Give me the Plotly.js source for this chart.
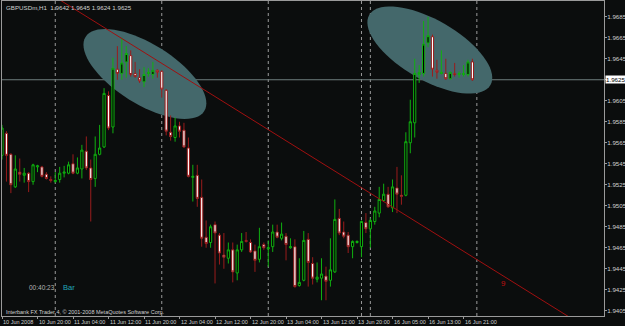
<!DOCTYPE html>
<html><head><meta charset="utf-8">
<script src="https://cdn.plot.ly/plotly-3.0.1.min.js"></script>
<style>html,body{margin:0;padding:0;background:#0b0d0d;}#chart{width:625px;height:326px;}</style>
</head><body><div id="chart"></div>
<script>
// ---- data (hourly GBPUSD bars, index 0 = 11 Jun 00:00) ----
const barIndex = [-12,-11,-10,-9,-8,-7,-6,-5,-4,-3,-2,-1,0,1,2,3,4,5,6,7,8,9,10,11,12,13,14,15,16,17,18,19,20,21,22,23,24,25,26,27,28,29,30,31,32,33,34,35,36,37,38,39,40,41,42,43,44,45,46,47,48,49,50,51,52,53,54,55,56,57,58,59,60,61,62,63,64,65,66,67,68,69,70,71,72,73,74,75,76,77,78,79,80,81,82,83,84,85,86,87,88,89,90,91,92,93,94];
const openP = [1.9553,1.9574,1.9554,1.9523,1.9537,1.9534,1.9536,1.9528,1.9542,1.9542,1.9535,1.9530,1.9528,1.9530,1.9536,1.9536,1.9545,1.9536,1.9540,1.9557,1.9541,1.9531,1.9554,1.9561,1.9610,1.9580,1.9635,1.9631,1.9642,1.9648,1.9631,1.9627,1.9623,1.9631,1.9630,1.9634,1.9633,1.9615,1.9575,1.9570,1.9581,1.9577,1.9560,1.9532,1.9534,1.9513,1.9475,1.9470,1.9487,1.9477,1.9458,1.9455,1.9463,1.9441,1.9463,1.9472,1.9470,1.9462,1.9454,1.9468,1.9464,1.9466,1.9480,1.9474,1.9476,1.9465,1.9466,1.9429,1.9434,1.9473,1.9450,1.9435,1.9436,1.9438,1.9434,1.9442,1.9493,1.9480,1.9477,1.9466,1.9470,1.9466,1.9489,1.9483,1.9490,1.9498,1.9510,1.9516,1.9503,1.9522,1.9515,1.9515,1.9565,1.9584,1.9630,1.9631,1.9660,1.9666,1.9634,1.9631,1.9631,1.9626,1.9631,1.9630,1.9630,1.9630,1.9642];
const highP = [1.9582,1.9576,1.9555,1.9553,1.9550,1.9541,1.9537,1.9545,1.9544,1.9543,1.9537,1.9533,1.9537,1.9542,1.9543,1.9547,1.9554,1.9551,1.9563,1.9571,1.9549,1.9571,1.9582,1.9617,1.9614,1.9646,1.9657,1.9665,1.9657,1.9653,1.9642,1.9635,1.9637,1.9636,1.9642,1.9635,1.9634,1.9616,1.9591,1.9589,1.9585,1.9584,1.9570,1.9544,1.9544,1.9530,1.9491,1.9487,1.9490,1.9479,1.9479,1.9470,1.9470,1.9468,1.9479,1.9480,1.9473,1.9468,1.9484,1.9470,1.9472,1.9487,1.9487,1.9489,1.9479,1.9474,1.9473,1.9455,1.9481,1.9479,1.9456,1.9451,1.9455,1.9447,1.9474,1.9511,1.9502,1.9490,1.9480,1.9472,1.9472,1.9491,1.9498,1.9493,1.9504,1.9523,1.9526,1.9523,1.9530,1.9542,1.9534,1.9575,1.9606,1.9645,1.9639,1.9681,1.9685,1.9668,1.9644,1.9653,1.9645,1.9633,1.9641,1.9633,1.9639,1.9644,1.9645];
const lowP = [1.9549,1.9528,1.9517,1.9522,1.9528,1.9527,1.9518,1.9525,1.9537,1.9532,1.9530,1.9527,1.9527,1.9527,1.9532,1.9535,1.9535,1.9535,1.9531,1.9539,1.9490,1.9523,1.9553,1.9560,1.9577,1.9574,1.9625,1.9625,1.9627,1.9628,1.9627,1.9622,1.9618,1.9628,1.9626,1.9627,1.9608,1.9572,1.9567,1.9566,1.9570,1.9560,1.9532,1.9509,1.9504,1.9466,1.9465,1.9465,1.9431,1.9449,1.9445,1.9450,1.9432,1.9434,1.9461,1.9470,1.9460,1.9442,1.9451,1.9463,1.9447,1.9461,1.9474,1.9472,1.9453,1.9464,1.9427,1.9428,1.9433,1.9428,1.9430,1.9432,1.9415,1.9415,1.9428,1.9441,1.9477,1.9474,1.9460,1.9455,1.9469,1.9456,1.9479,1.9465,1.9487,1.9494,1.9509,1.9503,1.9499,1.9498,1.9506,1.9514,1.9555,1.9570,1.9622,1.9628,1.9656,1.9628,1.9626,1.9630,1.9625,1.9625,1.9628,1.9627,1.9628,1.9628,1.9624];
const closeP = [1.9579,1.9553,1.9525,1.9540,1.9535,1.9536,1.9528,1.9544,1.9543,1.9533,1.9531,1.9529,1.9529,1.9536,1.9537,1.9544,1.9536,1.9541,1.9558,1.9541,1.9530,1.9554,1.9560,1.9612,1.9579,1.9636,1.9631,1.9641,1.9650,1.9630,1.9628,1.9624,1.9630,1.9632,1.9634,1.9632,1.9616,1.9576,1.9571,1.9581,1.9576,1.9561,1.9533,1.9533,1.9512,1.9474,1.9469,1.9485,1.9479,1.9460,1.9456,1.9463,1.9442,1.9463,1.9471,1.9471,1.9461,1.9453,1.9466,1.9465,1.9465,1.9480,1.9475,1.9478,1.9468,1.9466,1.9428,1.9432,1.9472,1.9451,1.9436,1.9437,1.9440,1.9433,1.9444,1.9492,1.9479,1.9476,1.9466,1.9471,1.9471,1.9490,1.9483,1.9491,1.9500,1.9511,1.9516,1.9504,1.9523,1.9516,1.9514,1.9566,1.9585,1.9631,1.9632,1.9659,1.9667,1.9635,1.9632,1.9632,1.9626,1.9632,1.9630,1.9631,1.9631,1.9642,1.9625];

const xTickVals = [-12,-4,4,12,20,28,36,44,52,60,68,76,84,92];
const xTickText = ["10 Jun 2008","10 Jun 20:00","11 Jun 04:00","11 Jun 12:00","11 Jun 20:00","12 Jun 04:00","12 Jun 12:00","12 Jun 20:00","13 Jun 04:00","13 Jun 12:00","13 Jun 20:00","16 Jun 05:00","16 Jun 13:00","16 Jun 21:00"];
const yTickVals = [1.9405,1.9425,1.9445,1.9465,1.9485,1.9505,1.9525,1.9545,1.9565,1.9585,1.9605,1.9625,1.9645,1.9665,1.9685];
const yTickText = ["1.9405","1.9425","1.9445","1.9465","1.9485","1.9505","1.9525","1.9545","1.9565","1.9585","1.9605","","1.9645","1.9665","1.9685"];
const daySeparators = [0,24,48,69,71,95];
const bidPrice = 1.9625;
const trendX = [-2,120];
const trendY = [1.9709,1.9388];
// ellipses: centre index, centre price, semi-axes (px), tilt (deg)
const ellipseCx = [20.2,84.4];
const ellipseCy = [1.96305,1.96533];
const ellipseA = [70,70];
const ellipseB = [30,30];
const ellipseTilt = [32,30];
const headerText = "GBPUSDm,H1  1.9642 1.9645 1.9624 1.9625";

// ---- layout geometry ----
const W=625,H=326, M={l:2,r:21,t:1,b:10};
const xRange=[-12,123.65], yRange=[1.9400,1.9700];
const pxX=(W-M.l-M.r)/(xRange[1]-xRange[0]);
const pxY=(H-M.t-M.b)/(yRange[1]-yRange[0]);

function ellipsePath(i){
  const th=ellipseTilt[i]*Math.PI/180; let d='';
  for(let k=0;k<=72;k++){
    const t=k/72*2*Math.PI;
    const dx=ellipseA[i]*Math.cos(t)*Math.cos(th)-ellipseB[i]*Math.sin(t)*Math.sin(th);
    const dy=ellipseA[i]*Math.cos(t)*Math.sin(th)+ellipseB[i]*Math.sin(t)*Math.cos(th);
    const x=ellipseCx[i]+dx/pxX, y=ellipseCy[i]-dy/pxY;
    d+=(k?'L':'M')+x.toFixed(4)+','+y.toFixed(6);
  }
  return d+'Z';
}

const shapes=[];
for(let i=0;i<ellipseCx.length;i++){
  shapes.push({type:'path',path:ellipsePath(i),xref:'x',yref:'y',layer:'below',fillcolor:'#44686b',line:{width:0}});
}
daySeparators.forEach(v=>shapes.push({type:'line',xref:'x',yref:'paper',x0:v,x1:v,y0:0,y1:1,layer:'below',line:{color:'#9a9a9a',width:1,dash:'dot'}}));
shapes.push({type:'line',xref:'paper',yref:'y',x0:0,x1:1,y0:bidPrice,y1:bidPrice,layer:'below',line:{color:'#6f7e7e',width:1}});

const FONT='"Liberation Sans Narrow","Liberation Sans",Arial,sans-serif';
const SMALL=6.2, TINY=5.5;
const traces=[
 {type:'candlestick',x:barIndex,open:openP,high:highP,low:lowP,close:closeP,
  increasing:{line:{color:'#10b010',width:1},fillcolor:'#000000'},
  decreasing:{line:{color:'#9a1c1c',width:1},fillcolor:'#ffffff'},
  whiskerwidth:0,hoverinfo:'skip',showlegend:false},
 {type:'scatter',mode:'lines',x:trendX,y:trendY,line:{color:'#a01010',width:1},hoverinfo:'skip',showlegend:false}
];

const annotations=[
  {xref:'paper',yref:'paper',x:0,y:1,xanchor:'left',yanchor:'top',xshift:2,yshift:-1,showarrow:false,
   text:headerText,font:{family:FONT,size:SMALL,color:'#d0d0d0'}},
  {xref:'paper',yref:'paper',x:0,y:0,xanchor:'left',yanchor:'bottom',xshift:2,yshift:-1,showarrow:false,
   text:'Interbank FX Trader 4, © 2001-2008 MetaQuotes Software Corp.',font:{family:FONT,size:TINY,color:'#d0d0d0'}},
  {xref:'paper',yref:'y',x:1,y:bidPrice,xanchor:'left',yanchor:'middle',xshift:1,showarrow:false,
   text:bidPrice.toFixed(4),bgcolor:'#ffffff',borderpad:0,font:{family:FONT,size:SMALL,color:'#000000'}},
  {xref:'paper',yref:'paper',x:0,y:0,xanchor:'left',yanchor:'middle',xshift:25,yshift:29,showarrow:false,
   text:'00:40:23',font:{family:'"Liberation Sans",Arial,sans-serif',size:6.5,color:'#b4b4b4'}},
  {xref:'paper',yref:'paper',x:0,y:0,xanchor:'left',yanchor:'middle',xshift:59,yshift:29,showarrow:false,
   text:'Bar',font:{family:'"Liberation Sans",Arial,sans-serif',size:7.5,color:'#22a8b8'}},
  {xref:'x',yref:'y',x:100.9,y:1.9431,showarrow:false,text:'9',font:{family:'"Liberation Sans",Arial,sans-serif',size:8,color:'#c01010'}}
];
// time-axis labels, left-aligned at their tick (MetaTrader style)
xTickVals.forEach((v,i)=>annotations.push({xref:'x',yref:'paper',x:v,y:0,xanchor:'left',yanchor:'middle',
  xshift:0,yshift:-6,showarrow:false,borderpad:0,text:xTickText[i],font:{family:FONT,size:TINY,color:'#d0d0d0'}}));

const layout={
 width:W,height:H,margin:M,paper_bgcolor:'#0b0d0d',plot_bgcolor:'#0b0d0d',
 showlegend:false,dragmode:false,
 xaxis:{range:xRange,rangeslider:{visible:false},showgrid:false,zeroline:false,
   showline:true,mirror:true,linecolor:'#9a9a9a',linewidth:1,
   tickmode:'array',tickvals:xTickVals,showticklabels:false,ticks:'outside',ticklen:2,tickcolor:'#9a9a9a'},
 yaxis:{range:yRange,side:'right',showgrid:false,zeroline:false,
   showline:true,mirror:true,linecolor:'#9a9a9a',linewidth:1,
   tickmode:'array',tickvals:yTickVals,ticktext:yTickText,ticks:'outside',ticklen:2,tickcolor:'#9a9a9a',
   ticklabelstandoff:-1,tickfont:{family:FONT,size:SMALL,color:'#d0d0d0'}},
 shapes:shapes,
 annotations:annotations
};
Plotly.newPlot('chart',traces,layout,{displayModeBar:false,staticPlot:true});
</script></body></html>
